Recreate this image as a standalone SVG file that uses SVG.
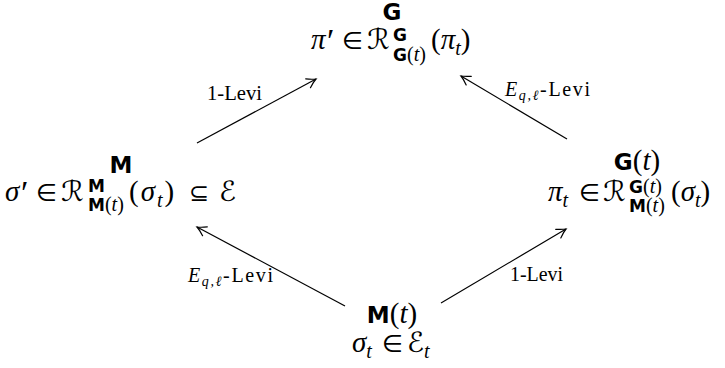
<svg xmlns="http://www.w3.org/2000/svg" width="725" height="368" viewBox="0 0 725 368">
<defs>
<marker id="ah" markerUnits="userSpaceOnUse" markerWidth="20" markerHeight="20" viewBox="-12 -10 20 20" refX="0" refY="0" orient="auto">
<path d="M -9 -5 Q -4 -1.5 0 0 Q -4 1.5 -9 5" fill="none" stroke="#000" stroke-width="1.2" stroke-linecap="round"/>
</marker>
<style>
.bf{font-family:"DejaVu Sans","Liberation Sans",sans-serif;font-weight:bold;font-size:23px;fill:#000}
.bfs{font-family:"DejaVu Sans","Liberation Sans",sans-serif;font-weight:bold;font-size:17px;fill:#000}
.mi{font-family:"Liberation Serif",serif;font-style:italic;font-size:29px;fill:#000}
.mis{font-family:"Liberation Serif",serif;font-style:italic;font-size:20px;fill:#000}
.rm{font-family:"Liberation Serif",serif;font-size:29px;fill:#000}
.rms{font-family:"Liberation Serif",serif;font-size:20px;fill:#000}
.sy{font-family:"DejaVu Sans",sans-serif;font-size:24px;fill:#000}
.cal{font-family:"DejaVu Sans",serif;font-size:28px;fill:#000}
.pr{font-family:"Liberation Serif",serif;font-size:34px;fill:#000}
.lab{font-family:"Liberation Serif",serif;font-size:20px;fill:#000}
.labi{font-family:"Liberation Serif",serif;font-style:italic;font-size:20px;fill:#000}
.labs{font-family:"Liberation Serif",serif;font-style:italic;font-size:14px;fill:#000}
.edge{stroke:#000;stroke-width:1.2;fill:none;marker-end:url(#ah)}
</style>
</defs>
<rect width="725" height="368" fill="#fff"/>

<g id="connectors">
<line class="edge" x1="197" y1="143" x2="316" y2="79"/>
<line class="edge" x1="567" y1="139" x2="461" y2="76"/>
<line class="edge" x1="345" y1="306" x2="197" y2="227"/>
<line class="edge" x1="441" y1="303" x2="566" y2="229"/>
<text class="lab" x="207" y="100" textLength="55" lengthAdjust="spacingAndGlyphs">1-Levi</text>
<text x="505" y="96" textLength="85" lengthAdjust="spacing"><tspan class="labi">E</tspan><tspan class="labs" dy="4">q,ℓ</tspan><tspan class="lab" dy="-4">-Levi</tspan></text>
<text x="188" y="282" textLength="85" lengthAdjust="spacing"><tspan class="labi">E</tspan><tspan class="labs" dy="4">q,ℓ</tspan><tspan class="lab" dy="-4">-Levi</tspan></text>
<text class="lab" x="510" y="281" textLength="53" lengthAdjust="spacingAndGlyphs">1-Levi</text>
</g>

<g id="node-G">
<text class="bf" x="392" y="20" text-anchor="middle">G</text>
<text class="mi" x="311" y="49">π</text>
<text class="pr" x="327" y="52">′</text>
<text class="sy" x="342" y="49">∈</text>
<text class="cal" x="367" y="49">ℛ</text>
<text class="bfs" x="393" y="41">G</text>
<text x="393" y="61"><tspan class="bfs">G</tspan><tspan class="rms">(</tspan><tspan class="mis">t</tspan><tspan class="rms">)</tspan></text>
<text x="431" y="49"><tspan class="rm">(</tspan><tspan class="mi">π</tspan><tspan class="mis" dy="6">t</tspan><tspan class="rm" dy="-6">)</tspan></text>
</g>

<g id="node-M">
<text class="bf" x="121" y="173" text-anchor="middle">M</text>
<text class="mi" x="5" y="201">σ</text>
<text class="pr" x="21" y="204">′</text>
<text class="sy" x="36" y="201">∈</text>
<text class="cal" x="61" y="201">ℛ</text>
<text class="bfs" x="88" y="192">M</text>
<text x="88" y="211"><tspan class="bfs">M</tspan><tspan class="rms">(</tspan><tspan class="mis">t</tspan><tspan class="rms">)</tspan></text>
<text x="129" y="201" letter-spacing="2"><tspan class="rm">(</tspan><tspan class="mi">σ</tspan><tspan class="mis" dy="6">t</tspan><tspan class="rm" dy="-6">)</tspan></text>
<text class="sy" x="189" y="201">⊆</text>
<text class="cal" x="219" y="201">ℰ</text>
</g>

<g id="node-Gt">
<text x="637" y="170" text-anchor="middle"><tspan class="bf">G</tspan><tspan class="rm">(</tspan><tspan class="mi">t</tspan><tspan class="rm">)</tspan></text>
<text x="548" y="201"><tspan class="mi">π</tspan><tspan class="mis" dy="6">t</tspan></text>
<text class="sy" x="579" y="201">∈</text>
<text class="cal" x="603" y="201">ℛ</text>
<text x="629" y="193"><tspan class="bfs">G</tspan><tspan class="rms">(</tspan><tspan class="mis">t</tspan><tspan class="rms">)</tspan></text>
<text x="629" y="212"><tspan class="bfs">M</tspan><tspan class="rms">(</tspan><tspan class="mis">t</tspan><tspan class="rms">)</tspan></text>
<text x="671" y="201"><tspan class="rm">(</tspan><tspan class="mi">σ</tspan><tspan class="mis" dy="6">t</tspan><tspan class="rm" dy="-6">)</tspan></text>
</g>

<g id="node-Mt">
<text x="392" y="323" text-anchor="middle"><tspan class="bf">M</tspan><tspan class="rm">(</tspan><tspan class="mi">t</tspan><tspan class="rm">)</tspan></text>
<text x="352" y="352"><tspan class="mi">σ</tspan><tspan class="mis" dy="6">t</tspan></text>
<text class="sy" x="382" y="352">∈</text>
<text x="407" y="352"><tspan class="cal">ℰ</tspan><tspan class="mis" dy="6">t</tspan></text>
</g>
</svg>
